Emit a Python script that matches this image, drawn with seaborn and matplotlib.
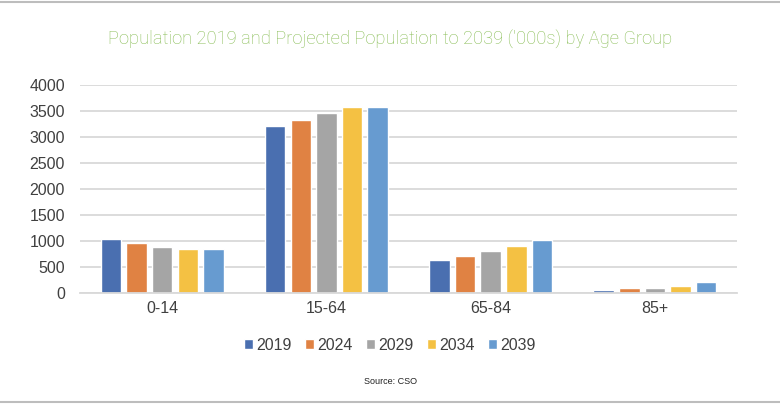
import matplotlib
matplotlib.use("Agg")
import matplotlib.pyplot as plt
from matplotlib.lines import Line2D
import seaborn as sns
import pandas as pd

age_groups = ["0-14", "15-64", "65-84", "85+"]
years = ["2019", "2024", "2029", "2034", "2039"]
pop_2019 = [1025, 3215, 625, 55]
pop_2024 = [950, 3325, 698, 92]
pop_2029 = [880, 3465, 805, 95]
pop_2034 = [840, 3570, 908, 130]
pop_2039 = [840, 3570, 1018, 200]
colors = ["#4a6fb0", "#e08243", "#a5a5a5", "#f4c143", "#679bd0"]

series = [pop_2019, pop_2024, pop_2029, pop_2034, pop_2039]
rows = []
for yr, vals in zip(years, series):
    for ag, v in zip(age_groups, vals):
        rows.append({"Age": ag, "Year": yr, "Pop": v})
df = pd.DataFrame(rows)

sns.set_theme(style="white")
plt.rcParams["font.family"] = ["Liberation Sans", "DejaVu Sans"]

fig = plt.figure(figsize=(7.8, 4.05), dpi=100)
ax = fig.add_axes([0.1026, 0.2773, 0.8424, 0.5127])
sns.barplot(data=df, x="Age", y="Pop", hue="Year", order=age_groups,
            hue_order=years, palette=colors, width=0.78, gap=0.2,
            saturation=1, ax=ax, legend=True)

ax.set_ylim(0, 4000)
ax.set_yticks(range(0, 4001, 500))
ax.set_xlim(-0.5, 3.5)
ax.yaxis.grid(True, color="#d9d9d9", linewidth=1.3)
ax.set_axisbelow(True)
for s in ["top", "right", "left"]:
    ax.spines[s].set_visible(False)
ax.spines["bottom"].set_color("#d9d9d9")
ax.spines["bottom"].set_linewidth(1.3)
ax.tick_params(axis="both", length=0, labelsize=11.5, labelcolor="#404040")
ax.tick_params(axis="y", pad=11)
ax.tick_params(axis="x", pad=6)
ax.set_xlabel("")
ax.set_ylabel("")

handles, labels = ax.get_legend_handles_labels()
ax.get_legend().remove()
fig.legend(handles, labels, loc="center", bbox_to_anchor=(0.5, 0.148), ncol=5,
           frameon=False, fontsize=11.5, handlelength=0.55, handleheight=0.55,
           handletextpad=0.2, columnspacing=0.85, labelcolor="#404040")

fig.text(0.5, 1 - 39 / 405, "Population 2019 and Projected Population to 2039 ('000s) by Age Group",
         ha="center", va="center", color="#88bd55", fontsize=13.2,
         family=["Roboto", "DejaVu Sans"], fontweight="light")
fig.text(0.5, 1 - 381 / 405, "Source: CSO", ha="center", va="center",
         fontsize=6.5, color="#222222")

fig.add_artist(Line2D([0, 1], [1 - 2 / 405, 1 - 2 / 405], color="#bdbdbd", linewidth=1.5))
fig.add_artist(Line2D([0, 1], [1 - 402 / 405, 1 - 402 / 405], color="#bdbdbd", linewidth=1.5))

fig.savefig("out.png", dpi=100)
